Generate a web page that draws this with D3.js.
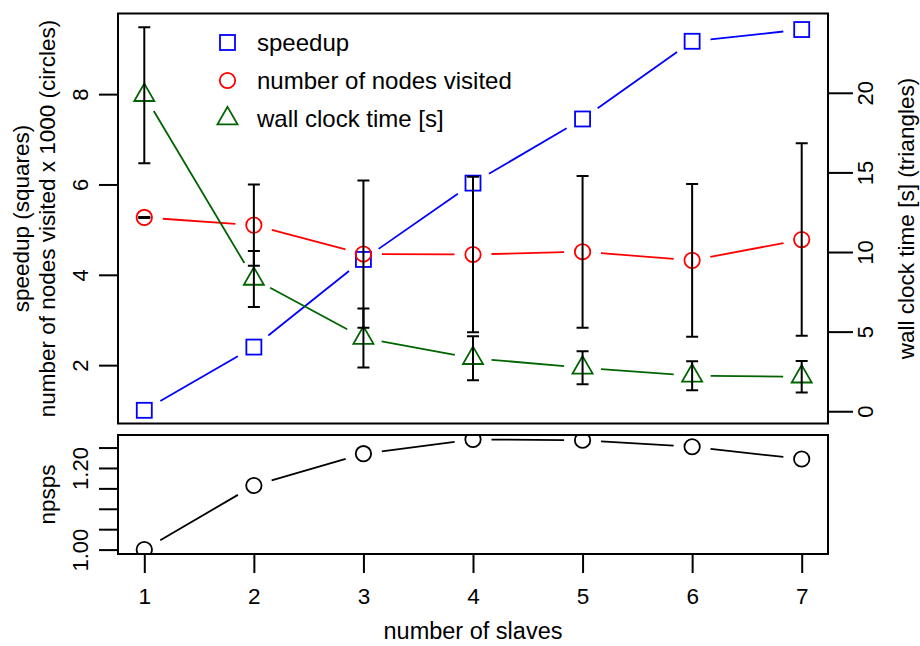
<!DOCTYPE html>
<html>
<head>
<meta charset="utf-8">
<script src="https://cdn.jsdelivr.net/npm/d3@7"></script>
<style>
  body { margin: 0; background: #fff; }
  text { font-family: "Liberation Sans", Arial, Helvetica, sans-serif; fill: #000; }
</style>
</head>
<body>
<svg id="chart" width="920" height="646"></svg>
<script>
// ---- data ----
const slaves = [1, 2, 3, 4, 5, 6, 7];
const speedup = [1.00, 2.40, 4.34, 6.03, 7.45, 9.17, 9.43];
const nodesVisited = [5.27, 5.10, 4.46, 4.45, 4.51, 4.32, 4.78];   // x 1000
const nodesErr = [0.01, 0.90, 1.63, 1.72, 1.68, 1.69, 2.13];
const wallTime = [19.85, 8.31, 4.60, 3.33, 2.73, 2.23, 2.17];       // seconds
const wallErr = [4.27, 1.76, 1.85, 1.38, 1.04, 0.91, 0.99];
const npsps = [1.000, 1.157, 1.235, 1.270, 1.268, 1.252, 1.222];

// axis limits and ticks
const xLimits = [0.76, 7.24];
const leftLimits = [0.708, 9.785];
const rightLimits = [-0.77, 24.98];
const leftTicks = [2, 4, 6, 8];
const rightTicks = [0, 5, 10, 15, 20];
const npspsTicks = [1.00, 1.05, 1.10, 1.15, 1.20, 1.25];
const npspsTickLabels = ["1.00", "", "", "", "1.20", ""];
const legendLabels = ["speedup", "number of nodes visited", "wall clock time [s]"];
const colors = { speedup: "#0000ff", nodes: "#ff0000", wall: "#006400", err: "#000000" };

// ---- layout ----
const svg = d3.select("#chart");
const topP = { l: 118, r: 828, t: 13.5, b: 423.5 };
const botP = { l: 118, r: 828, t: 435, b: 554 };
const GAP = 18.5;          // gap left around points on connecting lines
const LW = 1.8;

const x = d3.scaleLinear().domain(xLimits).range([topP.l, topP.r]);
const yL = d3.scaleLinear().domain(leftLimits).range([topP.b, topP.t]);
const yR = d3.scaleLinear().domain(rightLimits).range([topP.b, topP.t]);
const npspsExt = d3.extent(npsps);
const pad = (npspsExt[1] - npspsExt[0]) * 0.04;
const yB = d3.scaleLinear().domain([npspsExt[0] - pad, npspsExt[1] + pad]).range([botP.b, botP.t]);

// clip paths for both panels
const defs = svg.append("defs");
defs.append("clipPath").attr("id", "clipTop").append("rect")
  .attr("x", topP.l).attr("y", topP.t).attr("width", topP.r - topP.l).attr("height", topP.b - topP.t);
defs.append("clipPath").attr("id", "clipBot").append("rect")
  .attr("x", botP.l).attr("y", botP.t).attr("width", botP.r - botP.l).attr("height", botP.b - botP.t);

// connecting segments with gaps around each point
function gappedLine(g, pts, color) {
  for (let i = 0; i < pts.length - 1; i++) {
    const [x0, y0] = pts[i], [x1, y1] = pts[i + 1];
    const dx = x1 - x0, dy = y1 - y0, d = Math.hypot(dx, dy);
    if (d <= 2 * GAP) continue;
    const ux = dx / d, uy = dy / d;
    g.append("line")
      .attr("x1", x0 + ux * GAP).attr("y1", y0 + uy * GAP)
      .attr("x2", x1 - ux * GAP).attr("y2", y1 - uy * GAP)
      .attr("stroke", color).attr("stroke-width", LW);
  }
}

function square(g, cx, cy, color) {
  g.append("rect").attr("x", cx - 7.5).attr("y", cy - 7.5).attr("width", 15).attr("height", 15)
    .attr("fill", "none").attr("stroke", color).attr("stroke-width", LW);
}
function circle(g, cx, cy, color) {
  g.append("circle").attr("cx", cx).attr("cy", cy).attr("r", 7.7)
    .attr("fill", "none").attr("stroke", color).attr("stroke-width", LW);
}
function triangle(g, cx, cy, color) {
  const r = 11.6;
  const p = [[cx, cy - r], [cx + r * Math.cos(Math.PI / 6), cy + r / 2], [cx - r * Math.cos(Math.PI / 6), cy + r / 2]];
  g.append("path").attr("d", "M" + p.map(q => q.join(",")).join("L") + "Z")
    .attr("fill", "none").attr("stroke", color).attr("stroke-width", LW);
}
function errorBar(g, cx, yLo, yHi) {
  g.append("line").attr("x1", cx).attr("x2", cx).attr("y1", yLo).attr("y2", yHi)
    .attr("stroke", colors.err).attr("stroke-width", 2);
  [yLo, yHi].forEach(yy => g.append("line").attr("x1", cx - 6).attr("x2", cx + 6)
    .attr("y1", yy).attr("y2", yy).attr("stroke", colors.err).attr("stroke-width", 2));
}

// ---- top panel ----
const gTop = svg.append("g").attr("clip-path", "url(#clipTop)");
const spPts = slaves.map((s, i) => [x(s), yL(speedup[i])]);
const ndPts = slaves.map((s, i) => [x(s), yL(nodesVisited[i])]);
const wtPts = slaves.map((s, i) => [x(s), yR(wallTime[i])]);

gappedLine(gTop, spPts, colors.speedup);
spPts.forEach(p => square(gTop, p[0], p[1], colors.speedup));
gappedLine(gTop, ndPts, colors.nodes);
ndPts.forEach(p => circle(gTop, p[0], p[1], colors.nodes));
gappedLine(gTop, wtPts, colors.wall);
wtPts.forEach(p => triangle(gTop, p[0], p[1], colors.wall));

slaves.forEach((s, i) => {
  errorBar(gTop, x(s), yL(nodesVisited[i] - nodesErr[i]), yL(nodesVisited[i] + nodesErr[i]));
  errorBar(gTop, x(s), yR(wallTime[i] - wallErr[i]), yR(wallTime[i] + wallErr[i]));
});

// legend
const legY = [42.5, 80.5, 118.5];
const legG = svg.append("g");
square(legG, 227.5, legY[0], colors.speedup);
circle(legG, 227.5, legY[1], colors.nodes);
triangle(legG, 227.5, legY[2], colors.wall);
legendLabels.forEach((t, i) => legG.append("text").attr("x", 257).attr("y", legY[i] + 8.4)
  .attr("font-size", 24).text(t));

// top panel box
svg.append("rect").attr("x", topP.l).attr("y", topP.t).attr("width", topP.r - topP.l).attr("height", topP.b - topP.t)
  .attr("fill", "none").attr("stroke", "#000").attr("stroke-width", 2);

// left axis
const axL = svg.append("g").attr("transform", `translate(${topP.l},0)`)
  .call(d3.axisLeft(yL).tickValues(leftTicks).tickSize(19).tickFormat(d3.format("d")));
// right axis
const axR = svg.append("g").attr("transform", `translate(${topP.r},0)`)
  .call(d3.axisRight(yR).tickValues(rightTicks).tickSize(25).tickFormat(d3.format("d")));

[[axL, -30], [axR, 45]].forEach(([ax, off]) => {
  ax.select(".domain").remove();
  ax.selectAll(".tick line").attr("stroke-width", 2);
  ax.selectAll(".tick text").attr("x", null).attr("dy", null).attr("text-anchor", "middle")
    .attr("font-size", 22).attr("transform", `translate(${off},0) rotate(-90)`);
});

// ---- bottom panel ----
const gBot = svg.append("g").attr("clip-path", "url(#clipBot)");
const npPts = slaves.map((s, i) => [x(s), yB(npsps[i])]);
gappedLine(gBot, npPts, "#000");
npPts.forEach(p => circle(gBot, p[0], p[1], "#000"));

svg.append("rect").attr("x", botP.l).attr("y", botP.t).attr("width", botP.r - botP.l).attr("height", botP.b - botP.t)
  .attr("fill", "none").attr("stroke", "#000").attr("stroke-width", 2);

const axB = svg.append("g").attr("transform", `translate(0,${botP.b})`)
  .call(d3.axisBottom(x).tickValues(slaves).tickSize(19).tickFormat(d3.format("d")));
axB.select(".domain").remove();
axB.selectAll(".tick line").attr("stroke-width", 2);
axB.selectAll(".tick text").attr("y", 50).attr("dy", null).attr("font-size", 22.5);

const axBL = svg.append("g").attr("transform", `translate(${botP.l},0)`)
  .call(d3.axisLeft(yB).tickValues(npspsTicks).tickSize(19).tickFormat((d, i) => npspsTickLabels[i]));
axBL.select(".domain").remove();
axBL.selectAll(".tick line").attr("stroke-width", 2);
axBL.selectAll(".tick text").attr("x", null).attr("dy", null).attr("text-anchor", "middle")
  .attr("font-size", 22).attr("transform", "translate(-30,0) rotate(-90)");

// ---- axis titles ----
const midTop = (topP.t + topP.b) / 2;
const midBot = (botP.t + botP.b) / 2;
function vTitle(txt, bx, cy) {
  svg.append("text").attr("transform", `translate(${bx},${cy}) rotate(-90)`)
    .attr("text-anchor", "middle").attr("font-size", 22.5).text(txt);
}
vTitle("speedup (squares)", 28.5, midTop);
vTitle("number of nodes visited x 1000 (circles)", 55, midTop);
vTitle("wall clock time [s] (triangles)", 914, midTop);
vTitle("npsps", 55, midBot);

svg.append("text").attr("x", (botP.l + botP.r) / 2).attr("y", 639).attr("text-anchor", "middle")
  .attr("font-size", 23.5).text("number of slaves");
</script>
</body>
</html>
